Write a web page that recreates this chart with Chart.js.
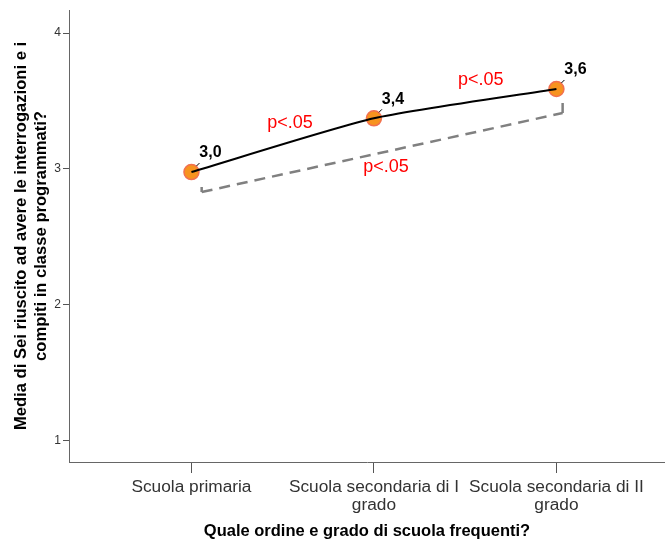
<!DOCTYPE html>
<html>
<head>
<meta charset="utf-8">
<script src="https://cdn.jsdelivr.net/npm/chart.js@4"></script>
<style>
  body { margin: 0; background: #fff; }
</style>
</head>
<body>
<canvas id="meanChart" width="665" height="542"></canvas>
<script>
// Data: school level and mean score
const categories = [['Scuola primaria'], ['Scuola secondaria di I', 'grado'], ['Scuola secondaria di II', 'grado']];
const means = [2.976, 3.372, 3.588];
const meanLabels = ['3,0', '3,4', '3,6'];
const yTicks = [1, 2, 3, 4];

// significance notes (data coordinates)
const pLabels = ['p<.05', 'p<.05', 'p<.05'];
const pLabelX = [0.54, 1.066, 1.585];
const pLabelY = [3.30, 2.98, 3.62];

// dashed bracket primaria -> secondaria di II grado
const bracketX = [0.056, 0.056, 2.034, 2.034];
const bracketY = [2.866, 2.829, 3.411, 3.485];

const FONT = '"Liberation Sans", Arial, sans-serif';

const annotations = {
    id: 'annotations',
    afterDatasetsDraw(chart) {
        const ctx = chart.ctx;
        const xs = chart.scales.x, ys = chart.scales.y;
        ctx.save();
        // value labels with small leader line
        ctx.font = 'bold 16px ' + FONT;
        ctx.fillStyle = '#000';
        ctx.strokeStyle = '#000';
        ctx.lineWidth = 1;
        ctx.textAlign = 'center';
        ctx.textBaseline = 'middle';
        means.forEach((v, i) => {
            const px = xs.getPixelForValue(i);
            const py = ys.getPixelForValue(v);
            ctx.beginPath();
            ctx.moveTo(px + 5, py - 6);
            ctx.lineTo(px + 8, py - 9);
            ctx.stroke();
            ctx.fillText(meanLabels[i], px + 19, py - 19);
        });
        // p-values
        ctx.font = '18px ' + FONT;
        ctx.fillStyle = '#ff0000';
        ctx.textBaseline = 'alphabetic';
        pLabels.forEach((t, i) => {
            ctx.fillText(t, xs.getPixelForValue(pLabelX[i]), ys.getPixelForValue(pLabelY[i]));
        });
        ctx.restore();
    }
};

const cv = document.getElementById('meanChart').getContext('2d');
const meanChart = new Chart(cv, {
    type: 'line',
    data: {
        datasets: [{
            // line on top of markers
            data: means.map((v, i) => ({x: i, y: v})),
            borderColor: '#000',
            borderWidth: 2,
            tension: 0.2,
            pointRadius: 0,
            order: 1
        }, {
            data: means.map((v, i) => ({x: i, y: v})),
            showLine: false,
            pointRadius: 7.5,
            pointBackgroundColor: '#f7931e',
            pointBorderColor: '#f2704f',
            pointBorderWidth: 1.5,
            order: 2
        }, {
            data: bracketX.map((x, i) => ({x: x, y: bracketY[i]})),
            borderColor: '#808080',
            borderWidth: 2.5,
            segment: {
                borderDash: ctx => ctx.p0DataIndex === 1 ? [11, 7] : []
            },
            pointRadius: 0,
            tension: 0,
            order: 3
        }]
    },
    options: {
        responsive: false,
        animation: false,
        layout: {
            autoPadding: false,
            padding: {top: 10, left: 0, right: 0, bottom: 0}
        },
        scales: {
            x: {
                type: 'linear',
                min: -0.671,
                max: 2.595,
                afterBuildTicks: (scale) => {
                    scale.ticks = categories.map((c, i) => ({value: i}));
                },
                afterFit: (scale) => {
                    scale.height = 80;
                    scale.paddingLeft = 0;
                    scale.paddingRight = 0;
                },
                grid: {
                    drawOnChartArea: false,
                    drawTicks: true,
                    tickLength: 11,
                    color: '#555'
                },
                border: {
                    display: true,
                    color: '#666',
                    width: 1
                },
                ticks: {
                    autoSkip: false,
                    maxRotation: 0,
                    padding: 6,
                    color: '#333',
                    font: {family: FONT, size: 17.3, lineHeight: 1.0},
                    callback: (value) => categories[value]
                },
                title: {
                    display: true,
                    text: 'Quale ordine e grado di scuola frequenti?',
                    color: '#000',
                    font: {family: FONT, size: 16.5, weight: 'bold', lineHeight: 1.2},
                    padding: {top: 0, bottom: 1}
                }
            },
            y: {
                min: 0.84,
                max: 4.17,
                afterBuildTicks: (scale) => {
                    scale.ticks = yTicks.map(v => ({value: v}));
                },
                afterFit: (scale) => {
                    scale.width = 69;
                    scale.paddingTop = 0;
                    scale.paddingBottom = 0;
                },
                grid: {
                    drawOnChartArea: false,
                    drawTicks: true,
                    tickLength: 6,
                    color: '#555'
                },
                border: {
                    display: true,
                    color: '#666',
                    width: 1
                },
                ticks: {
                    padding: 2,
                    color: '#333',
                    font: {family: FONT, size: 12},
                    callback: (value) => String(value)
                },
                title: {
                    display: true,
                    text: ['Media di Sei riuscito ad avere le interrogazioni e i', 'compiti in classe programmati?'],
                    color: '#000',
                    font: {family: FONT, size: 16.6, weight: 'bold', lineHeight: 1.22},
                    padding: {top: 11, bottom: 0}
                }
            }
        },
        plugins: {
            legend: {display: false},
            tooltip: {enabled: false}
        }
    },
    plugins: [annotations]
});
</script>
</body>
</html>
